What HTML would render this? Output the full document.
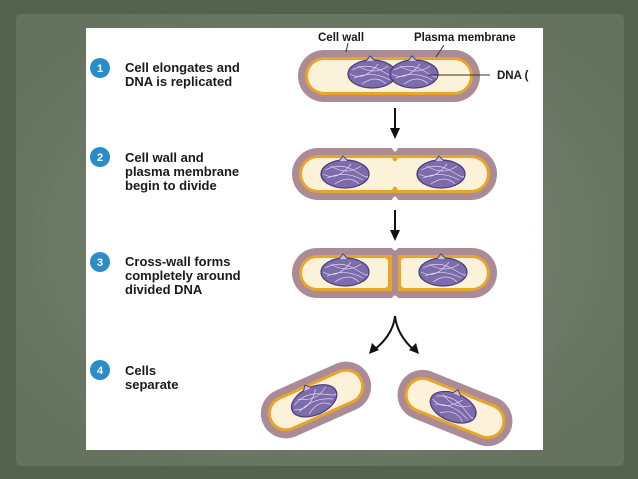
<!DOCTYPE html>
<html><head><meta charset="utf-8"><style>
html,body{margin:0;padding:0;width:638px;height:479px;overflow:hidden;background:#55624f;}
svg{display:block}
text{font-family:"Liberation Sans",Arial,sans-serif;font-weight:bold;fill:#1a1a1a}
</style></head><body>
<svg width="638" height="479" viewBox="0 0 638 479">
<defs>
<radialGradient id="bg" cx="50%" cy="50%" r="60%">
<stop offset="0" stop-color="#7a8876"/><stop offset="1" stop-color="#64725e"/></radialGradient>
<g id="dna">
<ellipse cx="0" cy="0" rx="24" ry="14" fill="#7d6cab" stroke="#4a3c7a" stroke-width="1.2"/>
<path d="M-20,-4 Q-5,-12 10,-3 T22,2 M-18,4 Q0,-4 18,6 M-14,-8 Q2,2 16,-8 M-10,10 Q4,0 14,10 M-22,0 Q-8,8 6,-10" stroke="#e0d8f0" stroke-width="0.7" fill="none"/>
<path d="M-6,-13 L-2,-18 L3,-13" stroke="#4a3c7a" fill="#c9c0e0" stroke-width="1"/>
</g>
</defs>
<rect x="0" y="0" width="638" height="479" fill="#55624f"/>
<rect x="16" y="14" width="608" height="452" rx="6" fill="url(#bg)"/>
<rect x="86" y="28" width="457" height="422" fill="#ffffff"/>
<!-- cell 1 -->
<rect x="298" y="50" width="182" height="52" rx="26" fill="#ab8c96"/>
<rect x="305" y="57" width="168" height="38" rx="19" fill="#e8a52a"/>
<rect x="308" y="60" width="162" height="32" rx="16" fill="#fcf1d9"/>
<use href="#dna" x="372" y="74"/><use href="#dna" x="414" y="74"/>
<text x="318" y="41" font-size="11.5">Cell wall</text>
<text x="414" y="41" font-size="11.5">Plasma membrane</text>
<line x1="348" y1="43" x2="346" y2="52" stroke="#333"/>
<line x1="444" y1="45" x2="436" y2="57" stroke="#333"/>
<line x1="428" y1="75" x2="490" y2="75" stroke="#333"/>
<text x="497" y="79" font-size="11.5">DNA (</text>
<!-- arrows -->
<line x1="395" y1="108" x2="395" y2="130" stroke="#111" stroke-width="2"/>
<path d="M390,128 L395,139 L400,128Z" fill="#111"/>
<line x1="395" y1="210" x2="395" y2="232" stroke="#111" stroke-width="2"/>
<path d="M390,230 L395,241 L400,230Z" fill="#111"/>
<!-- cell 2 -->
<rect x="292" y="148" width="205" height="52" rx="26" fill="#ab8c96"/>
<rect x="299" y="155" width="191" height="38" rx="19" fill="#e8a52a"/>
<rect x="302" y="158" width="185" height="32" rx="16" fill="#fcf1d9"/>
<path d="M391,155 Q395,168 399,155Z M391,193 Q395,180 399,193Z" fill="#e8a52a"/>
<path d="M392,148 Q395,155 398,148Z M392,200 Q395,193 398,200Z" fill="#fff"/>
<use href="#dna" x="345" y="174"/><use href="#dna" x="441" y="174"/>
<!-- cell 3 -->
<rect x="292" y="248" width="205" height="50" rx="25" fill="#ab8c96"/>
<path d="M392,255 H317 A18,18 0 0 0 317,291 H392 Z" fill="#e8a52a"/>
<path d="M388,258 H317 A15,15 0 0 0 317,288 H384 Q388,288 388,284 V262 Q388,258 384,258Z" fill="#fcf1d9"/>
<path d="M398,255 H472 A18,18 0 0 1 472,291 H398 Z" fill="#e8a52a"/>
<path d="M401,258 H472 A15,15 0 0 1 472,288 H405 Q401,288 401,284 V262 Q401,258 405,258Z" fill="#fcf1d9"/>
<path d="M392,248 Q395,253 398,248Z M392,298 Q395,293 398,298Z" fill="#fff"/>
<use href="#dna" x="345" y="272"/><use href="#dna" x="443" y="272"/>
<!-- fork -->
<path d="M395,316 Q393,335 374,350 M395,316 Q397,335 414,350" stroke="#111" stroke-width="2" fill="none"/>
<path d="M369,354 L372,343 L379,350Z M419,354 L409,350 L416,343Z" fill="#111"/>
<!-- cell 4 -->
<g transform="translate(316,400) rotate(-24)">
<rect x="-58" y="-25" width="116" height="50" rx="25" fill="#ab8c96"/>
<rect x="-51" y="-18" width="102" height="36" rx="18" fill="#e8a52a"/>
<rect x="-48" y="-15" width="96" height="30" rx="15" fill="#fcf1d9"/>
<use href="#dna" x="-2" y="0"/></g>
<g transform="translate(455,408) rotate(22)">
<rect x="-60" y="-25" width="120" height="50" rx="25" fill="#ab8c96"/>
<rect x="-53" y="-18" width="106" height="36" rx="18" fill="#e8a52a"/>
<rect x="-50" y="-15" width="100" height="30" rx="15" fill="#fcf1d9"/>
<use href="#dna" x="-2" y="0"/></g>
<!-- steps -->
<g font-size="13">
<circle cx="100" cy="68" r="10" fill="#2a8dc8"/><text x="100" y="72" font-size="11" style="fill:#fff" text-anchor="middle">1</text>
<text x="125" y="72">Cell elongates and</text><text x="125" y="86">DNA is replicated</text>
<circle cx="100" cy="157" r="10" fill="#2a8dc8"/><text x="100" y="161" font-size="11" style="fill:#fff" text-anchor="middle">2</text>
<text x="125" y="162">Cell wall and</text><text x="125" y="176">plasma membrane</text><text x="125" y="190">begin to divide</text>
<circle cx="100" cy="262" r="10" fill="#2a8dc8"/><text x="100" y="266" font-size="11" style="fill:#fff" text-anchor="middle">3</text>
<text x="125" y="266">Cross-wall forms</text><text x="125" y="280">completely around</text><text x="125" y="294">divided DNA</text>
<circle cx="100" cy="370" r="10" fill="#2a8dc8"/><text x="100" y="374" font-size="11" style="fill:#fff" text-anchor="middle">4</text>
<text x="125" y="375">Cells</text><text x="125" y="389">separate</text>
</g>
</svg>
</body></html>
